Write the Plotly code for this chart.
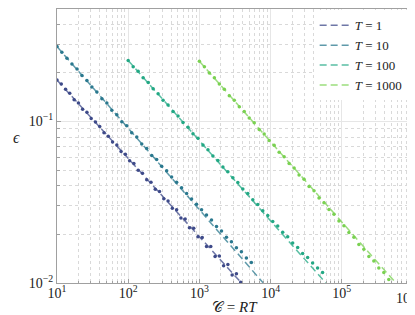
import plotly.graph_objects as go

# ---- data ----
series_names = ["<i>T</i> = 1", "<i>T</i> = 10", "<i>T</i> = 100", "<i>T</i> = 1000"]
colors = ["#3e4a89", "#2a788e", "#22a884", "#7ad151"]
line_colors = ["rgba(62,74,137,0.75)", "rgba(42,120,142,0.75)", "rgba(34,168,132,0.75)", "rgba(122,209,81,0.75)"]

x_tickvals = [10, 100, 1000, 10000, 100000, 1000000]
x_ticktext = ["10<sup>1</sup>", "10<sup>2</sup>", "10<sup>3</sup>", "10<sup>4</sup>", "10<sup>5</sup>", ""]
x_last_label = "10<sup>6</sup>"
y_tickvals = [0.01, 0.1]
y_ticktext = ["10<sup>−2</sup>", "10<sup>−1</sup>"]

# dashed reference lines (endpoints)
line1_x = [10, 3900]
line1_y = [0.18, 0.01]
line10_x = [10, 7900]
line10_y = [0.29, 0.01]
line100_x = [100, 59600]
line100_y = [0.238, 0.01]
line1000_x = [1000, 575000]
line1000_y = [0.235, 0.01]

# empirical points
dots1_x = [10, 11.5, 13.2, 15.1, 17.4, 20, 22.9, 26.3, 30.2, 34.7, 39.8, 45.7, 52.5, 60.3,
           69.2, 79.4, 91.2, 104.7, 120.2, 138, 158.5, 182, 209, 240, 275, 316, 363, 417,
           479, 550, 631, 724, 832, 955, 1096, 1259, 1445, 1660, 1905, 2188, 2512, 2884,
           3311, 3802]
dots1_y = [0.180, 0.170, 0.158, 0.149, 0.136, 0.130, 0.119, 0.114, 0.104, 0.099, 0.093,
           0.085, 0.081, 0.0745, 0.0715, 0.0652, 0.0625, 0.0570, 0.0548, 0.0498, 0.0478,
           0.0436, 0.0420, 0.0380, 0.0368, 0.0332, 0.0322, 0.0290, 0.0284, 0.0252, 0.0249,
           0.0220, 0.0218, 0.0193, 0.0191, 0.0168, 0.0168, 0.0146, 0.0147, 0.0128, 0.0130,
           0.0112, 0.0114, 0.0101]

dots10_x = [10, 11.7, 13.8, 16.2, 19.1, 22.4, 26.3, 30.9, 36.3, 42.7, 50.1, 58.9, 69.2,
            81.3, 95.5, 112, 132, 155, 182, 214, 251, 295, 347, 407, 479, 562, 661, 776,
            912, 1072, 1259, 1479, 1738, 2042, 2399, 2818, 3311, 3890, 4571, 5370]
dots10_y = [0.290, 0.268, 0.246, 0.226, 0.211, 0.192, 0.179, 0.163, 0.152, 0.138, 0.130,
            0.117, 0.110, 0.0995, 0.0940, 0.0850, 0.0800, 0.0725, 0.0680, 0.0615, 0.0580,
            0.0528, 0.0495, 0.0452, 0.0420, 0.0388, 0.0358, 0.0331, 0.0307, 0.0284, 0.0263,
            0.0245, 0.0224, 0.0210, 0.0192, 0.0180, 0.0165, 0.0156, 0.0143, 0.0134]

dots100_x = [100, 117.5, 138, 162, 191, 224, 263, 309, 363, 427, 501, 589, 692, 813, 955,
             1122, 1318, 1549, 1820, 2138, 2512, 2951, 3467, 4074, 4786, 5623, 6607, 7762,
             9120, 10715, 12589, 14791, 17378, 20417, 23988, 28184, 33113, 38905, 45709,
             53703]
dots100_y = [0.238, 0.218, 0.204, 0.186, 0.174, 0.159, 0.148, 0.135, 0.126, 0.115, 0.108,
             0.0985, 0.0920, 0.0838, 0.0785, 0.0715, 0.0668, 0.0610, 0.0572, 0.0522, 0.0488,
             0.0448, 0.0418, 0.0382, 0.0358, 0.0327, 0.0306, 0.0280, 0.0262, 0.0240, 0.0225,
             0.0206, 0.0193, 0.0177, 0.0166, 0.0152, 0.0144, 0.0133, 0.0124, 0.0116]

dots1000_x = [1000, 1175, 1380, 1622, 1905, 2239, 2630, 3090, 3631, 4266, 5012, 5888, 6918,
              8128, 9550, 11220, 13183, 15488, 18197, 21380, 25119, 29512, 34674, 40738,
              47863, 56234, 66069, 77625, 91201, 107152, 125893, 147911, 173780, 204174,
              239883, 281838, 331131, 389045, 457088]
dots1000_y = [0.235, 0.218, 0.199, 0.186, 0.170, 0.158, 0.144, 0.135, 0.123, 0.115, 0.105,
              0.0980, 0.0890, 0.0835, 0.0760, 0.0712, 0.0645, 0.0605, 0.0548, 0.0515, 0.0466,
              0.0438, 0.0396, 0.0372, 0.0336, 0.0314, 0.0285, 0.0266, 0.0242, 0.0226, 0.0205,
              0.0192, 0.0173, 0.0162, 0.0146, 0.0137, 0.0124, 0.0116, 0.0105]

lines = [(line1_x, line1_y), (line10_x, line10_y), (line100_x, line100_y), (line1000_x, line1000_y)]
dots = [(dots1_x, dots1_y), (dots10_x, dots10_y), (dots100_x, dots100_y), (dots1000_x, dots1000_y)]

# minor tick positions (2..9 within each decade)
x_minor = [m * 10 ** e for e in range(1, 6) for m in range(2, 10)]
y_minor = [m * 10 ** e for e in range(-2, 0) for m in range(2, 10)]

FONT = "Liberation Serif, DejaVu Serif, serif"

fig = go.Figure()
for i in range(4):
    lx, ly = lines[i]
    fig.add_trace(go.Scatter(x=lx, y=ly, mode="lines", name=series_names[i],
                             line=dict(color=line_colors[i], width=1.5, dash="7px,4px"),
                             legendgroup=str(i), showlegend=True))
    dx, dy = dots[i]
    fig.add_trace(go.Scatter(x=dx, y=dy, mode="markers", name=series_names[i],
                             marker=dict(color=colors[i], size=3.5, line=dict(width=0)),
                             legendgroup=str(i), showlegend=False))


def axis_style(minor_vals):
    return dict(
        type="log", showline=True, linecolor="#a0a0a0", linewidth=1, mirror=True,
        ticks="inside", ticklen=4, tickcolor="#a0a0a0",
        showgrid=True, gridcolor="#e6e6e6", gridwidth=1,
        zeroline=False, tickfont=dict(family=FONT, size=14, color="#222"),
        minor=dict(tickmode="array", tickvals=minor_vals, ticks="inside", ticklen=2.5,
                   tickcolor="#a0a0a0", showgrid=True, gridcolor="#d9d9d9",
                   griddash="dot", gridwidth=0.7),
    )


fig.update_layout(
    width=415, height=315,
    margin=dict(l=49, r=10, t=1, b=40),
    paper_bgcolor="white", plot_bgcolor="white",
    font=dict(family=FONT, size=15, color="#222"),
    xaxis=dict(range=[1, 6], tickmode="array", tickvals=x_tickvals, ticktext=x_ticktext,
               ticklabelstandoff=-3, **axis_style(x_minor)),
    yaxis=dict(range=[-2, -0.305], tickmode="array", tickvals=y_tickvals, ticktext=y_ticktext,
               **axis_style(y_minor)),
    legend=dict(x=0.985, y=0.995, xanchor="right", yanchor="top",
                bgcolor="white", borderwidth=0, tracegroupgap=0,
                font=dict(family=FONT, size=13, color="#222"), itemwidth=30),
    annotations=[
        dict(text=x_last_label, xref="paper", yref="paper", x=1.012, y=-0.052,
             xanchor="right", yanchor="middle", showarrow=False,
             font=dict(family=FONT, size=14, color="#222")),
        dict(text="𝒞 = <i>RT</i>", xref="paper", yref="paper", x=0.5, y=-0.087,
             xanchor="center", yanchor="middle", showarrow=False,
             font=dict(family=FONT, size=15, color="#222")),
        dict(text="<i>ϵ</i>", xref="paper", yref="paper", x=-0.115, y=0.53,
             xanchor="center", yanchor="middle", showarrow=False,
             font=dict(family=FONT, size=16, color="#222")),
    ],
)

fig.write_html("out.html")
